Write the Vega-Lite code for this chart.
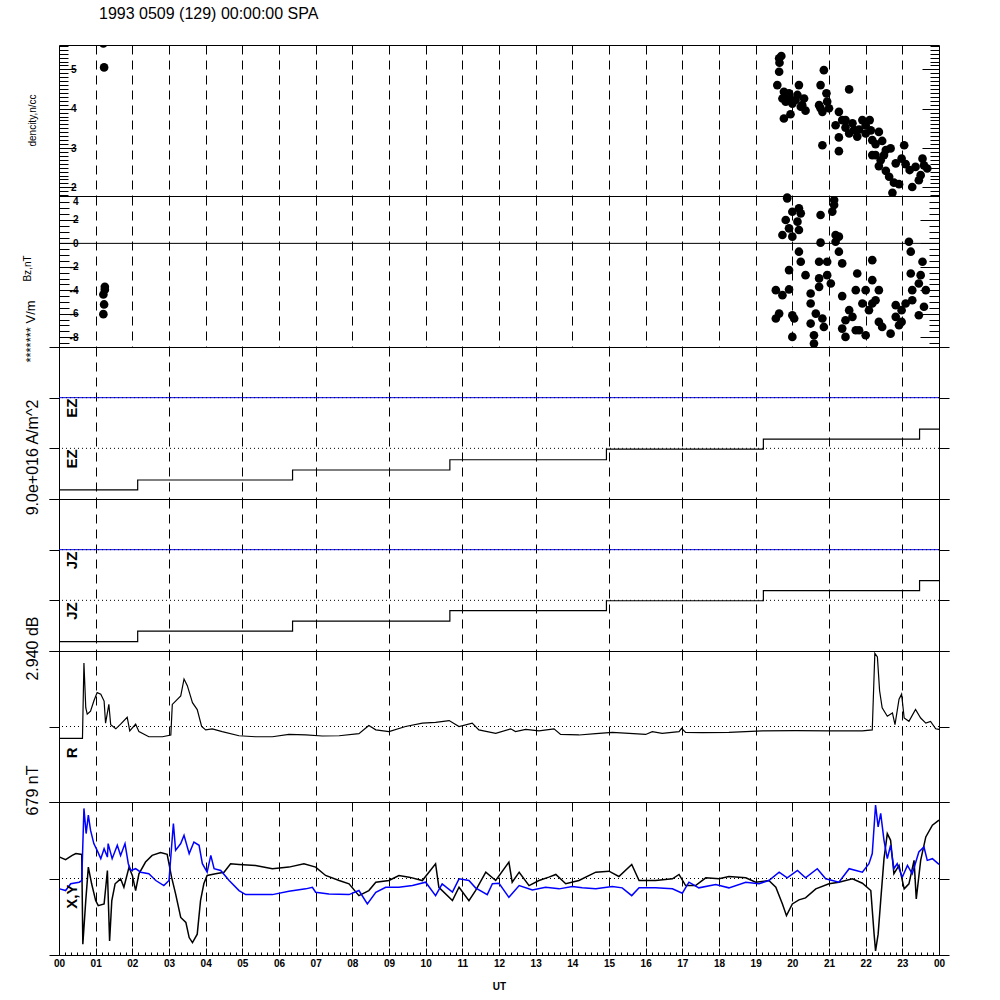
{
"$schema": "https://vega.github.io/schema/vega-lite/v6.json",
"background": "white",
"padding": {"left": 21, "top": 6, "right": 5, "bottom": 5},
"spacing": 0,
"bounds": "flush",
"title": {"text": "1993 0509 (129) 00:00:00 SPA", "anchor": "start", "frame": "group", "dx": 40, "offset": 18, "fontSize": 16, "fontWeight": "normal", "font": "Liberation Sans", "color": "black"},
"config": {
  "view": {"stroke": "black", "strokeWidth": 1},
  "axis": {"labelFont": "Liberation Sans", "titleFont": "Liberation Sans", "labelColor": "black", "titleColor": "black", "tickColor": "black", "domainColor": "black", "gridColor": "black", "labelFontSize": 10, "labelFontWeight": "bold", "titleFontWeight": "normal"},
  "text": {"font": "Liberation Sans"}
},
"datasets": {
  "density": [
    {"t":1.21,"n":5.66},{"t":1.23,"n":5.05},
    {"t":19.64,"n":5.28},{"t":19.70,"n":5.34},{"t":19.65,"n":5.17},{"t":19.64,"n":4.94},{"t":19.59,"n":4.60},{"t":19.77,"n":4.43},{"t":19.73,"n":4.26},{"t":19.82,"n":4.18},{"t":19.91,"n":4.30},{"t":20.00,"n":4.13},{"t":20.14,"n":4.35},{"t":20.18,"n":4.60},{"t":20.27,"n":4.09},{"t":20.36,"n":3.95},{"t":20.23,"n":4.05},{"t":19.95,"n":3.86},{"t":19.77,"n":3.75},{"t":20.09,"n":4.22},{"t":20.86,"n":4.98},{"t":20.77,"n":4.60},{"t":20.93,"n":4.39},{"t":20.73,"n":4.09},{"t":20.95,"n":4.18},{"t":20.82,"n":3.92},{"t":21.00,"n":4.01},{"t":21.27,"n":3.92},{"t":21.55,"n":4.49},{"t":21.18,"n":3.58},{"t":21.36,"n":3.71},{"t":21.45,"n":3.52},{"t":21.55,"n":3.37},{"t":21.27,"n":3.27},{"t":21.64,"n":3.63},{"t":21.82,"n":3.47},{"t":21.91,"n":3.71},{"t":22.11,"n":3.71},{"t":22.00,"n":3.37},{"t":22.18,"n":3.20},{"t":22.36,"n":3.41},{"t":22.27,"n":3.10},{"t":22.45,"n":3.18},{"t":20.82,"n":3.07},{"t":21.27,"n":2.92},{"t":22.27,"n":2.82},{"t":22.55,"n":2.95},{"t":22.68,"n":2.99},{"t":23.05,"n":3.07},{"t":22.18,"n":2.82},{"t":22.41,"n":2.69},{"t":22.36,"n":2.54},{"t":22.55,"n":2.42},{"t":22.64,"n":2.27},{"t":22.77,"n":2.12},{"t":22.91,"n":2.08},{"t":22.98,"n":2.73},{"t":23.09,"n":2.59},{"t":23.20,"n":2.44},{"t":23.55,"n":2.73},{"t":23.68,"n":2.48},{"t":23.50,"n":2.31},{"t":23.27,"n":2.01},{"t":22.73,"n":1.86},{"t":19.86,"n":1.74},{"t":21.68,"n":3.46},{"t":21.77,"n":3.29},{"t":21.45,"n":3.71},{"t":19.91,"n":4.39},{"t":20.32,"n":4.26},{"t":20.77,"n":4.01},{"t":22.00,"n":3.58},{"t":22.14,"n":3.45},{"t":22.50,"n":2.82},{"t":23.36,"n":2.52},{"t":23.59,"n":2.56},{"t":22.82,"n":2.61},{"t":23.45,"n":2.18}
  ],
  "bz": [
    {"t":1.25,"bz":-3.71},{"t":1.21,"bz":-4.36},{"t":1.23,"bz":-5.21},{"t":1.21,"bz":-6.04},{"t":1.25,"bz":-3.95},
    {"t":19.86,"bz":3.84},{"t":20.0,"bz":2.7},{"t":20.18,"bz":2.99},{"t":20.23,"bz":2.56},{"t":19.82,"bz":1.99},{"t":20.14,"bz":1.85},{"t":19.91,"bz":1.28},{"t":20.18,"bz":1.14},{"t":19.73,"bz":0.71},{"t":20.0,"bz":0.57},{"t":20.77,"bz":2.42},{"t":21.09,"bz":2.71},{"t":21.14,"bz":3.27},{"t":21.14,"bz":3.7},{"t":21.18,"bz":0.71},{"t":21.27,"bz":0.57},{"t":20.77,"bz":0.06},{"t":21.18,"bz":0.14},{"t":20.18,"bz":-0.71},{"t":21.27,"bz":-0.71},{"t":20.23,"bz":-1.57},{"t":20.73,"bz":-1.57},{"t":20.95,"bz":-1.57},{"t":21.36,"bz":-1.71},{"t":19.91,"bz":-2.28},{"t":20.36,"bz":-2.71},{"t":20.73,"bz":-2.99},{"t":20.95,"bz":-2.71},{"t":21.77,"bz":-2.57},{"t":22.18,"bz":-1.43},{"t":19.55,"bz":-3.99},{"t":19.91,"bz":-3.93},{"t":19.73,"bz":-4.42},{"t":20.5,"bz":-4.28},{"t":20.73,"bz":-3.71},{"t":21.05,"bz":-3.42},{"t":20.5,"bz":-5.13},{"t":21.36,"bz":-4.50},{"t":21.73,"bz":-3.99},{"t":22.18,"bz":-3.14},{"t":22.0,"bz":-3.99},{"t":22.36,"bz":-3.99},{"t":21.91,"bz":-5.13},{"t":22.18,"bz":-5.13},{"t":21.55,"bz":-5.70},{"t":19.55,"bz":-6.41},{"t":19.64,"bz":-5.99},{"t":20.0,"bz":-6.13},{"t":20.05,"bz":-6.41},{"t":20.64,"bz":-5.99},{"t":20.5,"bz":-6.84},{"t":20.82,"bz":-6.41},{"t":20.86,"bz":-7.13},{"t":21.45,"bz":-6.56},{"t":21.64,"bz":-6.27},{"t":21.36,"bz":-7.27},{"t":21.45,"bz":-7.98},{"t":22.0,"bz":-7.84},{"t":21.73,"bz":-7.41},{"t":22.36,"bz":-6.7},{"t":22.45,"bz":-7.13},{"t":22.68,"bz":-7.7},{"t":22.82,"bz":-6.27},{"t":22.82,"bz":-5.27},{"t":22.98,"bz":-5.7},{"t":23.09,"bz":-5.13},{"t":23.27,"bz":-3.99},{"t":23.45,"bz":-3.42},{"t":23.64,"bz":-3.99},{"t":23.18,"bz":0.14},{"t":23.23,"bz":-0.71},{"t":23.23,"bz":-2.57},{"t":23.55,"bz":-1.57},{"t":23.5,"bz":-2.71},{"t":23.27,"bz":-4.85},{"t":23.59,"bz":-5.41},{"t":23.45,"bz":-6.13},{"t":22.98,"bz":-6.7},{"t":22.91,"bz":-6.98},{"t":20.0,"bz":-7.98},{"t":20.59,"bz":-7.84},{"t":20.59,"bz":-8.55},{"t":21.82,"bz":-7.41},{"t":22.09,"bz":-5.7},{"t":22.27,"bz":-4.85}
  ],
  "steps": [
    {"t":0,"ez":0.18,"jz":0.185},{"t":2.146,"ez":0.375,"jz":0.394},{"t":6.37,"ez":0.572,"jz":0.591},{"t":10.66,"ez":0.775,"jz":0.795},{"t":14.93,"ez":0.986,"jz":0.992},{"t":19.21,"ez":1.183,"jz":1.19},{"t":23.47,"ez":1.38,"jz":1.39},{"t":24,"ez":1.38,"jz":1.39}
  ],
  "r": [
    {"t":0.02,"r":-0.46},{"t":0.64,"r":-0.46},{"t":0.68,"r":2.47},{"t":0.73,"r":0.73},{"t":0.77,"r":0.48},{"t":0.86,"r":0.60},{"t":0.95,"r":0.99},{"t":1.04,"r":1.32},{"t":1.14,"r":1.26},{"t":1.23,"r":0.99},{"t":1.27,"r":0.13},{"t":1.36,"r":0.86},{"t":1.41,"r":0.07},{"t":1.55,"r":-0.09},{"t":1.68,"r":0.09},{"t":1.86,"r":0.36},{"t":1.93,"r":-0.17},{"t":2.09,"r":0.09},{"t":2.18,"r":-0.20},{"t":2.45,"r":-0.40},{"t":2.82,"r":-0.40},{"t":3.05,"r":-0.33},{"t":3.09,"r":0.86},{"t":3.18,"r":0.99},{"t":3.32,"r":1.19},{"t":3.41,"r":1.85},{"t":3.50,"r":1.59},{"t":3.64,"r":0.93},{"t":3.77,"r":0.66},{"t":3.89,"r":0.00},{"t":4.00,"r":-0.13},{"t":4.18,"r":-0.09},{"t":4.45,"r":-0.20},{"t":4.91,"r":-0.36},{"t":5.36,"r":-0.40},{"t":5.82,"r":-0.40},{"t":6.27,"r":-0.31},{"t":6.73,"r":-0.33},{"t":7.18,"r":-0.37},{"t":7.64,"r":-0.36},{"t":8.18,"r":-0.28},{"t":8.45,"r":0.04},{"t":8.64,"r":-0.13},{"t":9.00,"r":-0.20},{"t":9.45,"r":0.00},{"t":9.91,"r":0.13},{"t":10.27,"r":0.16},{"t":10.64,"r":0.23},{"t":10.91,"r":0.00},{"t":11.27,"r":0.13},{"t":11.45,"r":-0.13},{"t":11.91,"r":-0.27},{"t":12.32,"r":-0.09},{"t":12.45,"r":-0.20},{"t":12.73,"r":-0.11},{"t":13.09,"r":-0.17},{"t":13.50,"r":-0.09},{"t":13.68,"r":-0.31},{"t":14.18,"r":-0.33},{"t":14.64,"r":-0.28},{"t":15.09,"r":-0.23},{"t":15.55,"r":-0.27},{"t":16.00,"r":-0.31},{"t":16.18,"r":-0.20},{"t":16.45,"r":-0.27},{"t":16.91,"r":-0.20},{"t":16.98,"r":-0.07},{"t":17.09,"r":-0.23},{"t":17.54,"r":-0.24},{"t":18.27,"r":-0.23},{"t":19.18,"r":-0.17},{"t":20.09,"r":-0.16},{"t":21.00,"r":-0.17},{"t":21.91,"r":-0.17},{"t":22.18,"r":-0.13},{"t":22.25,"r":2.85},{"t":22.32,"r":2.71},{"t":22.38,"r":1.39},{"t":22.45,"r":0.73},{"t":22.59,"r":0.40},{"t":22.73,"r":0.53},{"t":22.80,"r":0.07},{"t":22.91,"r":1.06},{"t":22.98,"r":1.26},{"t":23.05,"r":0.33},{"t":23.18,"r":0.20},{"t":23.36,"r":0.66},{"t":23.50,"r":0.33},{"t":23.64,"r":0.13},{"t":23.77,"r":0.20},{"t":23.91,"r":-0.09},{"t":24.00,"r":-0.11}
  ],
  "xy": [
    {"t":0.02,"c":"X","nT":190},{"t":0.18,"c":"X","nT":167},{"t":0.36,"c":"X","nT":205},{"t":0.46,"c":"X","nT":221},{"t":0.62,"c":"X","nT":214},{"t":0.65,"c":"X","nT":-583},{"t":0.73,"c":"X","nT":-196},{"t":0.80,"c":"X","nT":101},{"t":0.89,"c":"X","nT":-47},{"t":1.00,"c":"X","nT":-196},{"t":1.07,"c":"X","nT":-241},{"t":1.23,"c":"X","nT":-226},{"t":1.32,"c":"X","nT":71},{"t":1.38,"c":"X","nT":-554},{"t":1.44,"c":"X","nT":-196},{"t":1.53,"c":"X","nT":-47},{"t":1.68,"c":"X","nT":-3},{"t":1.77,"c":"X","nT":-78},{"t":1.91,"c":"X","nT":101},{"t":2.00,"c":"X","nT":27},{"t":2.09,"c":"X","nT":-107},{"t":2.18,"c":"X","nT":42},{"t":2.36,"c":"X","nT":146},{"t":2.54,"c":"X","nT":205},{"t":2.77,"c":"X","nT":230},{"t":2.95,"c":"X","nT":214},{"t":3.07,"c":"X","nT":12},{"t":3.18,"c":"X","nT":-137},{"t":3.32,"c":"X","nT":-346},{"t":3.46,"c":"X","nT":-390},{"t":3.55,"c":"X","nT":-524},{"t":3.64,"c":"X","nT":-569},{"t":3.77,"c":"X","nT":-494},{"t":3.86,"c":"X","nT":-196},{"t":3.95,"c":"X","nT":-47},{"t":4.04,"c":"X","nT":27},{"t":4.27,"c":"X","nT":42},{"t":4.50,"c":"X","nT":56},{"t":4.68,"c":"X","nT":131},{"t":4.91,"c":"X","nT":125},{"t":5.36,"c":"X","nT":116},{"t":5.82,"c":"X","nT":87},{"t":6.27,"c":"X","nT":101},{"t":6.68,"c":"X","nT":131},{"t":7.00,"c":"X","nT":101},{"t":7.27,"c":"X","nT":27},{"t":7.64,"c":"X","nT":-18},{"t":7.91,"c":"X","nT":-47},{"t":8.18,"c":"X","nT":-152},{"t":8.45,"c":"X","nT":-107},{"t":8.64,"c":"X","nT":-33},{"t":9.00,"c":"X","nT":-18},{"t":9.27,"c":"X","nT":27},{"t":9.55,"c":"X","nT":12},{"t":9.91,"c":"X","nT":-18},{"t":10.27,"c":"X","nT":131},{"t":10.36,"c":"X","nT":-78},{"t":10.73,"c":"X","nT":-196},{"t":10.91,"c":"X","nT":-78},{"t":11.18,"c":"X","nT":-196},{"t":11.36,"c":"X","nT":-107},{"t":11.64,"c":"X","nT":56},{"t":11.91,"c":"X","nT":-18},{"t":12.27,"c":"X","nT":146},{"t":12.36,"c":"X","nT":-33},{"t":12.55,"c":"X","nT":56},{"t":12.82,"c":"X","nT":-63},{"t":13.09,"c":"X","nT":-18},{"t":13.36,"c":"X","nT":12},{"t":13.55,"c":"X","nT":36},{"t":13.82,"c":"X","nT":-47},{"t":14.18,"c":"X","nT":-18},{"t":14.64,"c":"X","nT":56},{"t":15.00,"c":"X","nT":65},{"t":15.27,"c":"X","nT":18},{"t":15.62,"c":"X","nT":125},{"t":15.82,"c":"X","nT":-18},{"t":16.27,"c":"X","nT":-18},{"t":16.73,"c":"X","nT":-3},{"t":16.91,"c":"X","nT":36},{"t":17.09,"c":"X","nT":-63},{"t":17.36,"c":"X","nT":-63},{"t":17.64,"c":"X","nT":6},{"t":18.00,"c":"X","nT":-3},{"t":18.27,"c":"X","nT":18},{"t":18.73,"c":"X","nT":6},{"t":19.00,"c":"X","nT":-33},{"t":19.36,"c":"X","nT":-18},{"t":19.55,"c":"X","nT":-78},{"t":19.73,"c":"X","nT":-226},{"t":19.84,"c":"X","nT":-330},{"t":20.00,"c":"X","nT":-226},{"t":20.18,"c":"X","nT":-190},{"t":20.36,"c":"X","nT":-172},{"t":20.64,"c":"X","nT":-92},{"t":21.00,"c":"X","nT":-47},{"t":21.27,"c":"X","nT":-33},{"t":21.64,"c":"X","nT":-3},{"t":21.91,"c":"X","nT":-42},{"t":22.14,"c":"X","nT":-107},{"t":22.23,"c":"X","nT":-494},{"t":22.27,"c":"X","nT":-643},{"t":22.34,"c":"X","nT":-494},{"t":22.41,"c":"X","nT":-196},{"t":22.50,"c":"X","nT":176},{"t":22.59,"c":"X","nT":399},{"t":22.68,"c":"X","nT":339},{"t":22.77,"c":"X","nT":42},{"t":22.91,"c":"X","nT":116},{"t":23.05,"c":"X","nT":-92},{"t":23.18,"c":"X","nT":-47},{"t":23.32,"c":"X","nT":161},{"t":23.38,"c":"X","nT":-181},{"t":23.50,"c":"X","nT":161},{"t":23.64,"c":"X","nT":369},{"t":23.82,"c":"X","nT":473},{"t":24.00,"c":"X","nT":518},
    {"t":0.02,"c":"Y","nT":-92},{"t":0.18,"c":"Y","nT":-107},{"t":0.32,"c":"Y","nT":-47},{"t":0.55,"c":"Y","nT":-33},{"t":0.62,"c":"Y","nT":-18},{"t":0.68,"c":"Y","nT":622},{"t":0.74,"c":"Y","nT":399},{"t":0.80,"c":"Y","nT":563},{"t":0.86,"c":"Y","nT":429},{"t":0.95,"c":"Y","nT":310},{"t":1.04,"c":"Y","nT":250},{"t":1.14,"c":"Y","nT":176},{"t":1.23,"c":"Y","nT":265},{"t":1.32,"c":"Y","nT":190},{"t":1.34,"c":"Y","nT":310},{"t":1.45,"c":"Y","nT":176},{"t":1.59,"c":"Y","nT":295},{"t":1.68,"c":"Y","nT":205},{"t":1.80,"c":"Y","nT":310},{"t":1.89,"c":"Y","nT":131},{"t":1.96,"c":"Y","nT":71},{"t":2.09,"c":"Y","nT":87},{"t":2.23,"c":"Y","nT":56},{"t":2.45,"c":"Y","nT":42},{"t":2.64,"c":"Y","nT":-18},{"t":2.86,"c":"Y","nT":-63},{"t":3.00,"c":"Y","nT":-18},{"t":3.07,"c":"Y","nT":280},{"t":3.12,"c":"Y","nT":488},{"t":3.18,"c":"Y","nT":250},{"t":3.32,"c":"Y","nT":310},{"t":3.41,"c":"Y","nT":384},{"t":3.55,"c":"Y","nT":221},{"t":3.68,"c":"Y","nT":324},{"t":3.82,"c":"Y","nT":295},{"t":3.91,"c":"Y","nT":131},{"t":4.04,"c":"Y","nT":56},{"t":4.14,"c":"Y","nT":205},{"t":4.23,"c":"Y","nT":87},{"t":4.41,"c":"Y","nT":71},{"t":4.64,"c":"Y","nT":-18},{"t":4.91,"c":"Y","nT":-107},{"t":5.09,"c":"Y","nT":-143},{"t":5.82,"c":"Y","nT":-143},{"t":6.27,"c":"Y","nT":-113},{"t":6.73,"c":"Y","nT":-92},{"t":6.91,"c":"Y","nT":-78},{"t":7.00,"c":"Y","nT":-122},{"t":7.36,"c":"Y","nT":-137},{"t":7.91,"c":"Y","nT":-143},{"t":8.18,"c":"Y","nT":-107},{"t":8.41,"c":"Y","nT":-226},{"t":8.64,"c":"Y","nT":-122},{"t":8.91,"c":"Y","nT":-78},{"t":9.27,"c":"Y","nT":-78},{"t":9.64,"c":"Y","nT":-63},{"t":10.00,"c":"Y","nT":-33},{"t":10.27,"c":"Y","nT":-152},{"t":10.45,"c":"Y","nT":-47},{"t":10.73,"c":"Y","nT":-120},{"t":10.91,"c":"Y","nT":-3},{"t":11.18,"c":"Y","nT":-18},{"t":11.36,"c":"Y","nT":-83},{"t":11.68,"c":"Y","nT":-143},{"t":11.82,"c":"Y","nT":-47},{"t":12.00,"c":"Y","nT":-42},{"t":12.27,"c":"Y","nT":-167},{"t":12.55,"c":"Y","nT":-63},{"t":12.91,"c":"Y","nT":-101},{"t":13.27,"c":"Y","nT":-78},{"t":13.64,"c":"Y","nT":-92},{"t":14.00,"c":"Y","nT":-71},{"t":14.27,"c":"Y","nT":-83},{"t":14.64,"c":"Y","nT":-92},{"t":15.09,"c":"Y","nT":-71},{"t":15.36,"c":"Y","nT":-83},{"t":15.62,"c":"Y","nT":-152},{"t":15.82,"c":"Y","nT":-83},{"t":16.27,"c":"Y","nT":-83},{"t":16.73,"c":"Y","nT":-92},{"t":17.00,"c":"Y","nT":-131},{"t":17.18,"c":"Y","nT":-33},{"t":17.45,"c":"Y","nT":-83},{"t":17.91,"c":"Y","nT":-54},{"t":18.27,"c":"Y","nT":-83},{"t":18.73,"c":"Y","nT":-33},{"t":19.09,"c":"Y","nT":-47},{"t":19.36,"c":"Y","nT":-18},{"t":19.64,"c":"Y","nT":56},{"t":19.86,"c":"Y","nT":6},{"t":20.14,"c":"Y","nT":71},{"t":20.36,"c":"Y","nT":6},{"t":20.68,"c":"Y","nT":87},{"t":20.91,"c":"Y","nT":-3},{"t":21.27,"c":"Y","nT":-33},{"t":21.55,"c":"Y","nT":87},{"t":21.91,"c":"Y","nT":56},{"t":22.09,"c":"Y","nT":131},{"t":22.18,"c":"Y","nT":221},{"t":22.27,"c":"Y","nT":652},{"t":22.34,"c":"Y","nT":458},{"t":22.41,"c":"Y","nT":578},{"t":22.50,"c":"Y","nT":339},{"t":22.59,"c":"Y","nT":176},{"t":22.68,"c":"Y","nT":295},{"t":22.77,"c":"Y","nT":87},{"t":22.86,"c":"Y","nT":131},{"t":23.00,"c":"Y","nT":12},{"t":23.14,"c":"Y","nT":116},{"t":23.27,"c":"Y","nT":42},{"t":23.45,"c":"Y","nT":235},{"t":23.59,"c":"Y","nT":280},{"t":23.68,"c":"Y","nT":161},{"t":23.82,"c":"Y","nT":176},{"t":24.00,"c":"Y","nT":125}
  ]
},
"vconcat": [
  {
    "width": 880, "height": 151,
    "layer": [
      {"data": {"name": "density"},
       "mark": {"type": "circle", "size": 75, "color": "black", "opacity": 1, "clip": true},
       "encoding": {
         "x": {"field": "t", "type": "quantitative", "scale": {"domain": [0, 24], "nice": false, "zero": false},
               "axis": {"orient": "bottom", "values": [1,2,3,4,5,6,7,8,9,10,11,12,13,14,15,16,17,18,19,20,21,22,23], "grid": true, "gridDash": [9, 6], "gridColor": "black", "gridWidth": 1, "labels": false, "ticks": false, "domain": false, "title": null}},
         "y": {"field": "n", "type": "quantitative", "scale": {"domain": [1.78, 5.62], "nice": false, "zero": false},
               "axis": {"orient": "left", "values": [1.8,1.9,2,2.1,2.2,2.3,2.4,2.5,2.6,2.7,2.8,2.9,3,3.1,3.2,3.3,3.4,3.5,3.6,3.7,3.8,3.9,4,4.1,4.2,4.3,4.4,4.5,4.6,4.7,4.8,4.9,5,5.1,5.2,5.3,5.4,5.5,5.6], "labelExpr": "datum.value % 1 === 0 ? '' + datum.value : ''", "tickSize": {"condition": {"test": "datum.value % 1 === 0", "value": -17}, "value": -9}, "domain": false, "grid": false, "labelPadding": 0, "labelOverlap": false, "title": "dencity,n/cc", "titleFontSize": 10, "titleAngle": 270, "titleX": -27, "titleY": 75, "titleAlign": "center", "titleBaseline": "middle"}}
       }},
      {"data": {"values": [{}]},
       "mark": {"type": "rule", "strokeOpacity": 0},
       "encoding": {"y": {"datum": 5.62, "type": "quantitative",
         "axis": {"orient": "right", "values": [1.8,1.9,2,2.1,2.2,2.3,2.4,2.5,2.6,2.7,2.8,2.9,3,3.1,3.2,3.3,3.4,3.5,3.6,3.7,3.8,3.9,4,4.1,4.2,4.3,4.4,4.5,4.6,4.7,4.8,4.9,5,5.1,5.2,5.3,5.4,5.5,5.6], "labels": false, "tickSize": {"condition": {"test": "datum.value % 1 === 0", "value": -17}, "value": -9}, "domain": false, "grid": false, "title": null}}}}
    ],
    "resolve": {"axis": {"y": "independent"}}
  },
  {
    "width": 880, "height": 151,
    "layer": [
      {"data": {"name": "bz"},
       "mark": {"type": "circle", "size": 75, "color": "black", "opacity": 1, "clip": true},
       "encoding": {
         "x": {"field": "t", "type": "quantitative", "scale": {"domain": [0, 24], "nice": false, "zero": false},
               "axis": {"orient": "bottom", "values": [1,2,3,4,5,6,7,8,9,10,11,12,13,14,15,16,17,18,19,20,21,22,23], "grid": true, "gridDash": [9, 6], "gridColor": "black", "gridWidth": 1, "labels": false, "ticks": false, "domain": false, "title": null}},
         "y": {"field": "bz", "type": "quantitative", "scale": {"domain": [-8.84, 4.04], "nice": false, "zero": false},
               "axis": {"orient": "left", "values": [-8.5,-8,-7.5,-7,-6.5,-6,-5.5,-5,-4.5,-4,-3.5,-3,-2.5,-2,-1.5,-1,-0.5,0,0.5,1,1.5,2,2.5,3,3.5,4], "labelExpr": "datum.value % 2 === 0 ? '' + datum.value : ''", "tickSize": {"condition": {"test": "datum.value % 2 === 0", "value": -19}, "value": -10}, "domain": false, "grid": false, "labelPadding": 0, "labelOverlap": false, "labelFlush": true, "title": "******* V/m", "titleFontSize": 13, "titleAngle": 270, "titleX": -29, "titleY": 135, "titleAlign": "center", "titleBaseline": "middle"}}
       }},
      {"data": {"values": [{}]},
       "mark": {"type": "rule", "color": "black", "strokeWidth": 1},
       "encoding": {"y": {"datum": 0, "type": "quantitative",
         "axis": {"orient": "right", "values": [-8.5,-8,-7.5,-7,-6.5,-6,-5.5,-5,-4.5,-4,-3.5,-3,-2.5,-2,-1.5,-1,-0.5,0,0.5,1,1.5,2,2.5,3,3.5,4], "labels": false, "tickSize": {"condition": {"test": "datum.value % 2 === 0", "value": -19}, "value": -10}, "domain": false, "grid": false, "title": "Bz,nT", "titleFontSize": 10, "titleAngle": 270, "titleX": -912, "titleY": 72, "titleAlign": "center", "titleBaseline": "middle"}}}}
    ],
    "resolve": {"axis": {"y": "independent"}}
  },
  {
    "width": 880, "height": 152,
    "layer": [
      {"data": {"name": "steps"},
       "mark": {"type": "line", "color": "black", "strokeWidth": 1.2, "interpolate": "step-after"},
       "encoding": {
         "x": {"field": "t", "type": "quantitative", "scale": {"domain": [0, 24], "nice": false, "zero": false},
               "axis": {"orient": "bottom", "values": [1,2,3,4,5,6,7,8,9,10,11,12,13,14,15,16,17,18,19,20,21,22,23], "grid": true, "gridDash": [9, 6], "gridColor": "black", "gridWidth": 1, "labels": false, "ticks": false, "domain": false, "title": null}},
         "y": {"field": "ez", "type": "quantitative", "scale": {"domain": [0, 3], "nice": false, "zero": false},
               "axis": {"orient": "left", "values": [0, 1, 2, 3], "labels": false, "tickSize": 10, "domain": false, "grid": false, "title": "9.0e+016 A/m^2", "titleFontSize": 16, "titleAngle": 270, "titleX": -27, "titleY": 110, "titleAlign": "center", "titleBaseline": "middle"}}
       }},
      {"data": {"values": [{}]}, "mark": {"type": "rule", "color": "blue", "strokeWidth": 1}, "encoding": {"y": {"datum": 2, "type": "quantitative", "axis": null}}},
      {"data": {"values": [{}]}, "mark": {"type": "rule", "color": "black", "strokeWidth": 1, "strokeDash": [1, 3]}, "encoding": {"y": {"datum": 2, "type": "quantitative", "axis": null}}},
      {"data": {"values": [{}]}, "mark": {"type": "rule", "color": "black", "strokeWidth": 1, "strokeDash": [1, 3]},
       "encoding": {"y": {"datum": 1, "type": "quantitative", "axis": {"orient": "right", "values": [0, 1, 2, 3], "labels": false, "tickSize": 10, "domain": false, "grid": false, "title": null}}}},
      {"data": {"values": [{"label": "EZ", "level": 2}, {"label": "EZ", "level": 1}]},
       "mark": {"type": "text", "angle": 270, "align": "right", "baseline": "middle", "dx": -1, "dy": 12.5, "fontSize": 15, "fontWeight": "bold", "color": "black"},
       "encoding": {"x": {"datum": 0, "type": "quantitative"}, "y": {"field": "level", "type": "quantitative", "axis": null}, "text": {"field": "label"}}}
    ],
    "resolve": {"axis": {"y": "independent"}}
  },
  {
    "width": 880, "height": 152,
    "layer": [
      {"data": {"name": "steps"},
       "mark": {"type": "line", "color": "black", "strokeWidth": 1.2, "interpolate": "step-after"},
       "encoding": {
         "x": {"field": "t", "type": "quantitative", "scale": {"domain": [0, 24], "nice": false, "zero": false},
               "axis": {"orient": "bottom", "values": [1,2,3,4,5,6,7,8,9,10,11,12,13,14,15,16,17,18,19,20,21,22,23], "grid": true, "gridDash": [9, 6], "gridColor": "black", "gridWidth": 1, "labels": false, "ticks": false, "domain": false, "title": null}},
         "y": {"field": "jz", "type": "quantitative", "scale": {"domain": [0, 3], "nice": false, "zero": false},
               "axis": {"orient": "left", "values": [0, 1, 2, 3], "labels": false, "tickSize": 10, "domain": false, "grid": false, "title": "2.940 dB", "titleFontSize": 16, "titleAngle": 270, "titleX": -27, "titleY": 149, "titleAlign": "center", "titleBaseline": "middle"}}
       }},
      {"data": {"values": [{}]}, "mark": {"type": "rule", "color": "blue", "strokeWidth": 1}, "encoding": {"y": {"datum": 2, "type": "quantitative", "axis": null}}},
      {"data": {"values": [{}]}, "mark": {"type": "rule", "color": "black", "strokeWidth": 1, "strokeDash": [1, 3]}, "encoding": {"y": {"datum": 2, "type": "quantitative", "axis": null}}},
      {"data": {"values": [{}]}, "mark": {"type": "rule", "color": "black", "strokeWidth": 1, "strokeDash": [1, 3]},
       "encoding": {"y": {"datum": 1, "type": "quantitative", "axis": {"orient": "right", "values": [0, 1, 2, 3], "labels": false, "tickSize": 10, "domain": false, "grid": false, "title": null}}}},
      {"data": {"values": [{"label": "JZ", "level": 2}, {"label": "JZ", "level": 1}]},
       "mark": {"type": "text", "angle": 270, "align": "right", "baseline": "middle", "dx": -2, "dy": 12.5, "fontSize": 15, "fontWeight": "bold", "color": "black"},
       "encoding": {"x": {"datum": 0, "type": "quantitative"}, "y": {"field": "level", "type": "quantitative", "axis": null}, "text": {"field": "label"}}}
    ],
    "resolve": {"axis": {"y": "independent"}}
  },
  {
    "width": 880, "height": 151,
    "layer": [
      {"data": {"name": "r"},
       "mark": {"type": "line", "color": "black", "strokeWidth": 1.2},
       "encoding": {
         "x": {"field": "t", "type": "quantitative", "scale": {"domain": [0, 24], "nice": false, "zero": false},
               "axis": {"orient": "bottom", "values": [1,2,3,4,5,6,7,8,9,10,11,12,13,14,15,16,17,18,19,20,21,22,23], "grid": true, "gridDash": [9, 6], "gridColor": "black", "gridWidth": 1, "labels": false, "ticks": false, "domain": false, "title": null}},
         "y": {"field": "r", "type": "quantitative", "scale": {"domain": [-2.94, 2.94], "nice": false, "zero": false},
               "axis": {"orient": "left", "values": [-2.94, 0, 2.94], "labels": false, "tickSize": 10, "domain": false, "grid": false, "title": "679 nT", "titleFontSize": 16, "titleAngle": 270, "titleX": -27, "titleY": 139, "titleAlign": "center", "titleBaseline": "middle"}}
       }},
      {"data": {"values": [{}]}, "mark": {"type": "rule", "color": "black", "strokeWidth": 1, "strokeDash": [1, 3]},
       "encoding": {"y": {"datum": 0, "type": "quantitative", "axis": {"orient": "right", "values": [-2.94, 0, 2.94], "labels": false, "tickSize": 10, "domain": false, "grid": false, "title": null}}}},
      {"data": {"values": [{"label": "R", "level": 0}]},
       "mark": {"type": "text", "angle": 270, "align": "right", "baseline": "middle", "dx": -21, "dy": 12.5, "fontSize": 15, "fontWeight": "bold", "color": "black"},
       "encoding": {"x": {"datum": 0, "type": "quantitative"}, "y": {"field": "level", "type": "quantitative", "axis": null}, "text": {"field": "label"}}}
    ],
    "resolve": {"axis": {"y": "independent"}}
  },
  {
    "width": 880, "height": 153,
    "layer": [
      {"data": {"name": "xy"},
       "mark": {"type": "line", "strokeWidth": 1.5},
       "encoding": {
         "x": {"field": "t", "type": "quantitative", "scale": {"domain": [0, 24], "nice": false, "zero": false},
               "axis": {"orient": "bottom", "values": [0,1,2,3,4,5,6,7,8,9,10,11,12,13,14,15,16,17,18,19,20,21,22,23,24],
                        "grid": true, "gridDash": [9, 6], "gridColor": "black", "gridWidth": 1,
                        "gridOpacity": {"condition": {"test": "datum.value > 0 && datum.value < 24", "value": 1}, "value": 0},
                        "ticks": true, "tickSize": -7,
                        "domain": false, "labelOverlap": false, "labelFlush": false,
                        "labelExpr": "datum.value % 24 < 10 ? '0' + (datum.value % 24) : '' + datum.value",
                        "labelPadding": 10, "labelFontSize": 10, "labelFontWeight": "bold",
                        "title": "UT", "titleFontSize": 10, "titleFontWeight": "bold", "titlePadding": 13}},
         "y": {"field": "nT", "type": "quantitative", "scale": {"domain": [-679, 679], "nice": false, "zero": false},
               "axis": {"orient": "left", "values": [-679, 0, 679], "labels": false, "tickSize": 10, "domain": false, "grid": false, "title": null}},
         "color": {"field": "c", "type": "nominal", "scale": {"domain": ["X", "Y"], "range": ["black", "#0000ff"]}, "legend": null}
       }},
      {"data": {"values": [{}]}, "mark": {"type": "rule", "color": "black", "strokeWidth": 1, "strokeDash": [1, 3]},
       "encoding": {"y": {"datum": 0, "type": "quantitative", "axis": {"orient": "right", "values": [-679, 0, 679], "labels": false, "tickSize": 10, "domain": false, "grid": false, "title": null}}}},
      {"data": {"values": [{"label": "X,Y", "level": 0}]},
       "mark": {"type": "text", "angle": 270, "align": "right", "baseline": "middle", "dx": -6, "dy": 12.5, "fontSize": 15, "fontWeight": "bold", "color": "black"},
       "encoding": {"x": {"datum": 0, "type": "quantitative",
                          "axis": {"orient": "bottom", "values": [0.1667,0.3333,0.5,0.6667,0.8333,1.1667,1.3333,1.5,1.6667,1.8333,2.1667,2.3333,2.5,2.6667,2.8333,3.1667,3.3333,3.5,3.6667,3.8333,4.1667,4.3333,4.5,4.6667,4.8333,5.1667,5.3333,5.5,5.6667,5.8333,6.1667,6.3333,6.5,6.6667,6.8333,7.1667,7.3333,7.5,7.6667,7.8333,8.1667,8.3333,8.5,8.6667,8.8333,9.1667,9.3333,9.5,9.6667,9.8333,10.1667,10.3333,10.5,10.6667,10.8333,11.1667,11.3333,11.5,11.6667,11.8333,12.1667,12.3333,12.5,12.6667,12.8333,13.1667,13.3333,13.5,13.6667,13.8333,14.1667,14.3333,14.5,14.6667,14.8333,15.1667,15.3333,15.5,15.6667,15.8333,16.1667,16.3333,16.5,16.6667,16.8333,17.1667,17.3333,17.5,17.6667,17.8333,18.1667,18.3333,18.5,18.6667,18.8333,19.1667,19.3333,19.5,19.6667,19.8333,20.1667,20.3333,20.5,20.6667,20.8333,21.1667,21.3333,21.5,21.6667,21.8333,22.1667,22.3333,22.5,22.6667,22.8333,23.1667,23.3333,23.5,23.6667,23.8333], "labels": false, "ticks": true, "tickSize": -3, "grid": false, "domain": false, "title": null}},
                    "y": {"field": "level", "type": "quantitative", "axis": null}, "text": {"field": "label"}}}
    ],
    "resolve": {"axis": {"x": "independent", "y": "independent"}}
  }
]
}
